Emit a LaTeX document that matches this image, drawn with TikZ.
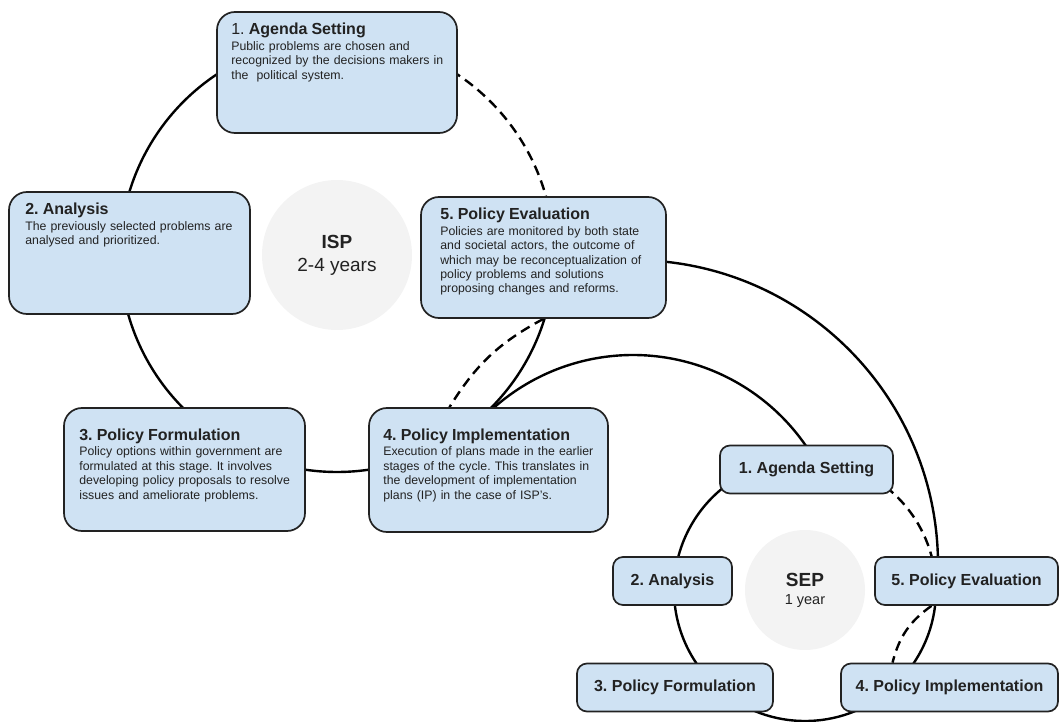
\documentclass[tikz,border=0pt]{standalone}
\usepackage{fontspec}
\setmainfont{Liberation Sans}
\usetikzlibrary{calc,backgrounds}
\definecolor{boxblue}{HTML}{CFE2F3}
\definecolor{hubgray}{HTML}{F3F3F3}
\definecolor{ink}{HTML}{222222}
\newcommand{\headfont}{\fontsize{16}{18}\selectfont}
\frenchspacing

\begin{document}
\begin{tikzpicture}[x=1pt,y=-1pt,
  bigbox/.style={draw=ink,line width=1.7pt,fill=boxblue,rounded corners=18pt,inner sep=0pt},
  smallbox/.style={draw=ink,line width=1.7pt,fill=boxblue,rounded corners=10pt,
    minimum height=48pt,inner sep=0pt,text=ink,font={\headfont\bfseries}},
  desc/.style={anchor=north west,inner sep=0pt,text width=#1,align=left,text=ink,
    font={\fontsize{12.3}{14.4}\selectfont}},
  hub/.style={circle,fill=hubgray,inner sep=0pt,align=center,text=ink},
  cyc/.style={line width=2.4pt},
  dashcyc/.style={cyc,dash pattern=on 10pt off 6pt}]
\useasboundingbox (0,0) rectangle (1061,722);

% ISP cycle
\node[hub,minimum size=150pt,font={\fontsize{19}{23}\selectfont}] (isp) at (337,255)
  {\textbf{ISP}\\2-4 years};

\node[bigbox,minimum width=240pt,minimum height=121pt] (agenda) at (337,72.5) {};
\node[desc=228pt] (agenda-txt) at ($(agenda.north west)+(15,12)$)
  {{\headfont 1. \textbf{Agenda Setting}}\\[1pt]
   Public problems are chosen and\\
   recognized by the decisions makers in\\
   the~ political system.};

\node[bigbox,minimum width=241pt,minimum height=122pt] (analysis) at (129.5,253) {};
\node[desc=228pt] (analysis-txt) at ($(analysis.north west)+(17,12)$)
  {{\headfont\textbf{2. Analysis}}\\[1pt]
   The previously selected problems are\\
   analysed and prioritized.};

\node[bigbox,minimum width=245pt,minimum height=121pt] (eval) at (543.5,257.5) {};
\node[desc=228pt] (eval-txt) at ($(eval.north west)+(20,12)$)
  {{\headfont\textbf{5. Policy Evaluation}}\\[1pt]
   Policies are monitored by both state\\
   and societal actors, the outcome of\\
   which may be reconceptualization of\\
   policy problems and solutions\\
   proposing changes and reforms.};

\node[bigbox,minimum width=241pt,minimum height=123pt] (form) at (184.5,469.5) {};
\node[desc=228pt] (form-txt) at ($(form.north west)+(16,21.5)$)
  {{\headfont\textbf{3. Policy Formulation}}\\[1pt]
   Policy options within government are\\
   formulated at this stage. It involves\\
   developing policy proposals to resolve\\
   issues and ameliorate problems.};

\node[bigbox,minimum width=239pt,minimum height=124pt] (impl) at (488.5,470) {};
\node[desc=228pt] (impl-txt) at ($(impl.north west)+(15,21.5)$)
  {{\headfont\textbf{4. Policy Implementation}}\\[1pt]
   Execution of plans made in the earlier\\
   stages of the cycle. This translates in\\
   the development of implementation\\
   plans (IP) in the case of ISP’s.};

% SEP cycle
\node[hub,minimum size=120pt,font={\fontsize{14.5}{18}\selectfont}] (sep) at (805,590)
  {{\fontsize{19}{21}\selectfont\textbf{SEP}}\\1 year};

\node[smallbox,minimum width=173pt] (s-agenda) at (806.5,469.5) {1. Agenda Setting};
\node[smallbox,minimum width=119pt] (s-analysis) at (672.5,581) {2. Analysis};
\node[smallbox,minimum width=183pt] (s-eval) at (966.5,581) {5. Policy Evaluation};
\node[smallbox,minimum width=196pt] (s-form) at (675,687.5) {3. Policy Formulation};
\node[smallbox,minimum width=217pt] (s-impl) at (949.5,687.5) {4. Policy Implementation};

\coordinate (hub) at (633,565);

\begin{scope}[on background layer]
\draw[cyc] (isp.center) ++(0:217) arc[start angle=0,end angle=285,radius=217];
\draw[dashcyc] (isp.center) ++(-75:217) arc[start angle=-75,end angle=0,radius=217];
\draw[dashcyc] (eval.south) to[bend right=15] ($(impl.north)+(-39,0)$);

\draw[cyc] (sep.center) ++(0:131) arc[start angle=0,end angle=280,radius=131];
\draw[dashcyc] (sep.center) ++(-80:131) arc[start angle=-80,end angle=0,radius=131];
\draw[dashcyc] ($(s-eval.south)+(-35,0)$) to[bend right=20] ($(s-impl.north)+(-57,0)$);

% ISP feeds SEP
\draw[cyc] (hub) ++(-134:210) arc[start angle=-134,end angle=-32,radius=210];
\draw[cyc] (hub) ++(-86:305) arc[start angle=-86,end angle=2,radius=305];
\end{scope}
\end{tikzpicture}
\end{document}
